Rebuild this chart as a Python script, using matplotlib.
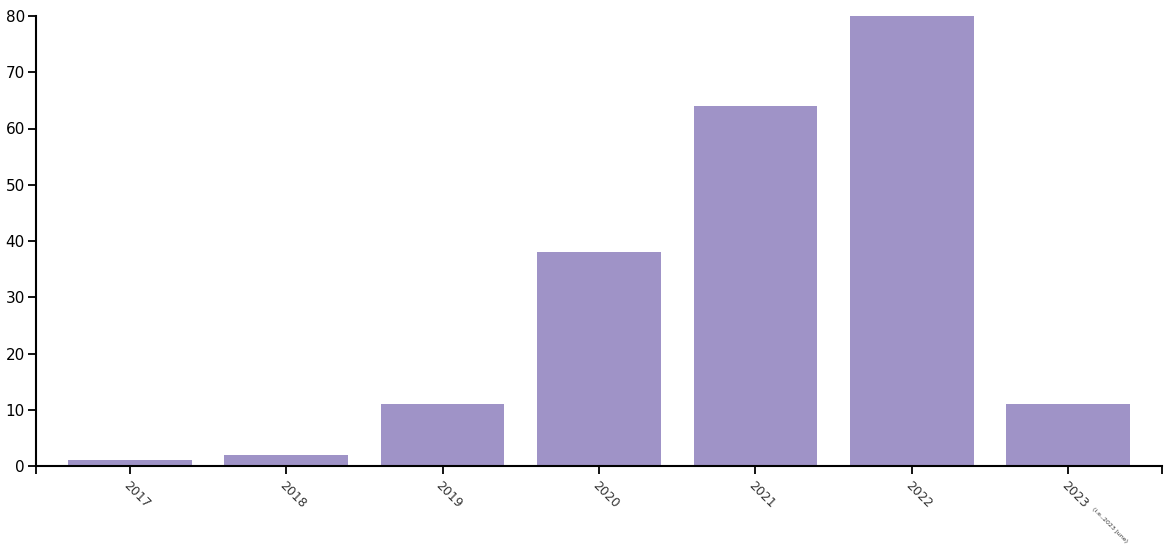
import numpy as np
from matplotlib import pyplot as plt

years = ["2017", "2018", "2019", "2020", "2021", "2022", "2023"]
counts = [1, 2, 11, 38, 64, 80, 11]
y_ticks = [0, 10, 20, 30, 40, 50, 60, 70, 80]
note_2023 = "(i.e.,2023 June)"

bar_color = "#9f93c7"

fig = plt.figure(figsize=(11.7, 5.46), dpi=100)
ax = fig.add_axes([36 / 1170, 1 - 466 / 546, (1162 - 36) / 1170, 450 / 546])

x = np.arange(len(years))
ax.bar(x, counts, width=0.79, color=bar_color)

pad = 0.6
ax.set_xlim(-pad, len(years) - 1 + pad)
ax.set_ylim(0, 80)
ax.set_yticks(y_ticks)
ax.tick_params(axis="y", length=6, width=1.3, labelsize=11, pad=2)

ax.set_xticks(x)
ax.set_xticklabels(years, rotation=-45, ha="left", va="top",
                   rotation_mode="anchor", fontsize=9, color="#333333")
ax.tick_params(axis="x", length=6, width=1.3, pad=3)
# outer ticks on the ends of the x axis
ax.set_xticks([-pad, len(years) - 1 + pad], minor=True)
ax.tick_params(axis="x", which="minor", length=6, width=1.3)

# small note after the last year
last = ax.get_xticklabels()[-1]
ax.annotate(note_2023, xy=(1, 0), xycoords=last, xytext=(0, 0),
            textcoords="offset points", rotation=-45, ha="left", va="bottom",
            rotation_mode="anchor", fontsize=4.5, color="#333333")

for s in ["top", "right"]:
    ax.spines[s].set_visible(False)
for s in ["left", "bottom"]:
    ax.spines[s].set_linewidth(1.5)

fig.savefig("out.png", dpi=100)
